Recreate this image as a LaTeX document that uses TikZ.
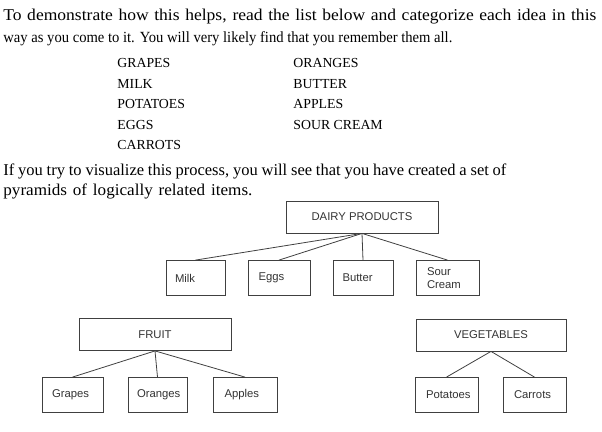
\documentclass[tikz,border=0pt]{standalone}
\usepackage{fontspec}
\usepackage{graphicx}
\setmainfont{Liberation Serif}
\newfontfamily\boxfont{Liberation Sans}
\begin{document}
\begin{tikzpicture}[x=1pt,y=-1pt,draw=black!75,line width=0.8pt]
    \tikzstyle{textline}=[anchor=base west,inner sep=0pt,font=\fontsize{16.5}{20}\selectfont]
    \tikzstyle{listitem}=[anchor=base west,inner sep=0pt,font=\fontsize{13.8}{16}\selectfont]
    \tikzstyle{box}=[rectangle,draw,inner sep=0pt,text=black!80,font=\boxfont\fontsize{11.3}{13}\selectfont]
    \tikzstyle{group box}=[box,minimum width=152pt,minimum height=32pt]
    \tikzstyle{item box}=[box,minimum height=35pt,text width=41pt,align=left]

    \useasboundingbox (0,0) rectangle (602,431);

    % Draw the text above the pyramids
    \node[textline] (intro-1) at (3,20) {\resizebox{593pt}{\height}{\makebox[558pt][s]{To demonstrate how this helps, read the list below and categorize each idea in this}}};
    \node[textline, font=\fontsize{15.5}{20}\selectfont] (intro-2) at (3,42) {\resizebox{449pt}{\height}{way as you come to it. You will very likely find that you remember them all.}};
    \foreach \name / \txt / \y in {grapes/GRAPES/67, milk/MILK/88, potatoes/POTATOES/108, eggs/EGGS/129, carrots/CARROTS/149}
      \node[listitem] (list-\name) at (117,\y) {\txt};
    \foreach \name / \txt / \y in {oranges/ORANGES/67, butter/BUTTER/88, apples/APPLES/108, sour/SOUR CREAM/129}
      \node[listitem] (list-\name) at (293,\y) {\txt};
    \node[textline] (pyr-1) at (3,175) {\makebox[503pt][s]{If you try to visualize this process, you will see that you have created a set of}};
    \node[textline] (pyr-2) at (3,195) {\resizebox{249pt}{\height}{\makebox[240pt][s]{pyramids of logically related items.}}};

    % Draw the dairy pyramid
    \node[group box] (dairy) at (362,217) {DAIRY PRODUCTS};
    \foreach \name / \txt / \x / \w in {milk/Milk/195.5/59, eggs/Eggs/279/62, butter/Butter/363/60, sour/{Sour\\Cream}/447.5/63}
      \node[item box, minimum width=\w pt] (\name) at (\x,278) {\txt};

    % Draw the fruit pyramid
    \node[group box] (fruit) at (155,334.5) {FRUIT};
    \foreach \name / \txt / \x / \w in {grapes/Grapes/72.5/61, oranges/Oranges/157.5/59, apples/Apples/245/64}
      \node[item box, minimum width=\w pt] (\name) at (\x,395) {\txt};

    % Draw the vegetable pyramid
    \node[group box, minimum width=150pt] (veg) at (491,335) {VEGETABLES};
    \foreach \name / \txt / \x / \w in {potatoes/Potatoes/446.5/63, carrots/Carrots/534.5/63}
      \node[item box, minimum width=\w pt] (\name) at (\x,395) {\txt};

    \foreach \dest in {milk,eggs,butter,sour}
        \path (dairy.south) edge (\dest.north);
    \foreach \dest in {grapes,oranges,apples}
        \path (fruit.south) edge (\dest.north);
    \foreach \dest in {potatoes,carrots}
        \path (veg.south) edge (\dest.north);
\end{tikzpicture}
\end{document}
